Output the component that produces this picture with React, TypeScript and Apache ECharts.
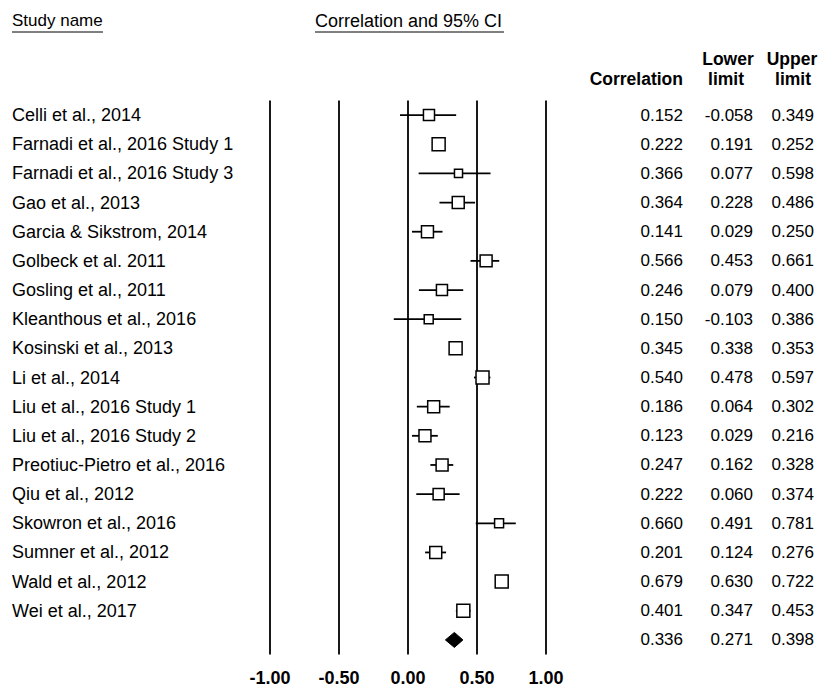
import React, { useEffect, useRef } from "react";
import * as echarts from "echarts";

const studies = [
  "Celli et al., 2014",
  "Farnadi et al., 2016 Study 1",
  "Farnadi et al., 2016 Study 3",
  "Gao et al., 2013",
  "Garcia & Sikstrom, 2014",
  "Golbeck et al. 2011",
  "Gosling et al., 2011",
  "Kleanthous et al., 2016",
  "Kosinski et al., 2013",
  "Li et al., 2014",
  "Liu et al., 2016 Study 1",
  "Liu et al., 2016 Study 2",
  "Preotiuc-Pietro et al., 2016",
  "Qiu et al., 2012",
  "Skowron et al., 2016",
  "Sumner et al., 2012",
  "Wald et al., 2012",
  "Wei et al., 2017",
];
const correlation = [0.152, 0.222, 0.366, 0.364, 0.141, 0.566, 0.246, 0.15, 0.345, 0.54, 0.186, 0.123, 0.247, 0.222, 0.66, 0.201, 0.679, 0.401];
const lowerLimit = [-0.058, 0.191, 0.077, 0.228, 0.029, 0.453, 0.079, -0.103, 0.338, 0.478, 0.064, 0.029, 0.162, 0.06, 0.491, 0.124, 0.63, 0.347];
const upperLimit = [0.349, 0.252, 0.598, 0.486, 0.25, 0.661, 0.4, 0.386, 0.353, 0.597, 0.302, 0.216, 0.328, 0.374, 0.781, 0.276, 0.722, 0.453];
const relativeWeight = [0.85, 1, 0.62, 0.92, 0.92, 0.92, 0.85, 0.69, 1, 1, 0.92, 0.92, 0.92, 0.85, 0.69, 0.92, 1, 1];
const summaryCorrelation = 0.336;
const summaryLower = 0.271;
const summaryUpper = 0.398;
const xTicks = [-1, -0.5, 0, 0.5, 1];

const FONT = "'Liberation Sans', Arial, sans-serif";

export default function App() {
  const ref = useRef<HTMLDivElement>(null);
  useEffect(() => {
    if (!ref.current) return;
    const chart = echarts.init(ref.current, null, { renderer: "svg" });
    const rows = [...studies, ""];
    const corrCol = [...correlation, summaryCorrelation];
    const lowCol = [...lowerLimit, summaryLower];
    const upCol = [...upperLimit, summaryUpper];
    const gridLeft = 270;
    const gridRight = 546;
    const numAxis = (margin: number, col: number[]) => ({
      type: "category",
      data: rows,
      inverse: true,
      position: "right",
      axisLine: { show: false },
      axisTick: { show: false },
      splitLine: { show: false },
      axisLabel: {
        align: "right",
        margin,
        color: "#000",
        fontSize: 17,
        fontFamily: FONT,
        formatter: (_v: string, i: number) => col[i].toFixed(3),
      },
    });
    const headStyle = { fontSize: 17.5, fontWeight: "bold", fontFamily: FONT, fill: "#000" };
    chart.setOption({
      animation: false,
      backgroundColor: "#fff",
      grid: { left: gridLeft, width: gridRight - gridLeft, top: 100.5, height: 554 },
      xAxis: {
        type: "value",
        min: xTicks[0],
        max: xTicks[xTicks.length - 1],
        interval: 0.5,
        axisLine: { show: false },
        axisTick: { show: false },
        splitLine: { show: true, lineStyle: { color: "#000", width: 1.8 } },
        axisLabel: {
          margin: 14,
          color: "#000",
          fontSize: 18,
          fontWeight: "bold",
          fontFamily: FONT,
          formatter: (v: number) => v.toFixed(2),
        },
      },
      yAxis: [
        {
          type: "category",
          data: rows,
          inverse: true,
          position: "left",
          axisLine: { show: false },
          axisTick: { show: false },
          splitLine: { show: false },
          axisLabel: { align: "left", margin: gridLeft - 12, color: "#000", fontSize: 18, fontFamily: FONT },
        },
        numAxis(683 - gridRight, corrCol),
        numAxis(753 - gridRight, lowCol),
        numAxis(814 - gridRight, upCol),
      ],
      graphic: [
        { type: "text", left: 12, top: 12, style: { text: "Study name", fontSize: 17, fontFamily: FONT, fill: "#000" } },
        { type: "line", shape: { x1: 12, y1: 32, x2: 103, y2: 32 }, style: { stroke: "#000", lineWidth: 1 } },
        { type: "text", left: 315, top: 12, style: { text: "Correlation and 95% CI", fontSize: 18, fontFamily: FONT, fill: "#000" } },
        { type: "line", shape: { x1: 315, y1: 32, x2: 504, y2: 32 }, style: { stroke: "#000", lineWidth: 1 } },
        { type: "text", x: 683, y: 79, style: { ...headStyle, text: "Correlation", align: "right", verticalAlign: "middle" } },
        { type: "text", x: 728, y: 59, style: { ...headStyle, text: "Lower", align: "center", verticalAlign: "middle" } },
        { type: "text", x: 726, y: 79, style: { ...headStyle, text: "limit", align: "center", verticalAlign: "middle" } },
        { type: "text", x: 792, y: 59, style: { ...headStyle, text: "Upper", align: "center", verticalAlign: "middle" } },
        { type: "text", x: 793, y: 79, style: { ...headStyle, text: "limit", align: "center", verticalAlign: "middle" } },
      ],
      series: [
        {
          type: "custom",
          coordinateSystem: "cartesian2d",
          xAxisIndex: 0,
          yAxisIndex: 0,
          data: studies.map((_, i) => [correlation[i], lowerLimit[i], upperLimit[i], i, relativeWeight[i]]),
          encode: { x: [0, 1, 2], y: 3 },
          renderItem: (_p: any, api: any) => {
            const row = api.value(3);
            const c = api.coord([api.value(0), row]);
            const l = api.coord([api.value(1), row]);
            const u = api.coord([api.value(2), row]);
            const s = 13 * api.value(4);
            return {
              type: "group",
              children: [
                { type: "line", shape: { x1: l[0], y1: l[1], x2: u[0], y2: u[1] }, style: { stroke: "#000", lineWidth: 1.8 } },
                {
                  type: "rect",
                  shape: { x: c[0] - s / 2, y: c[1] - s / 2, width: s, height: s },
                  style: { fill: "#fff", stroke: "#000", lineWidth: 1.5 },
                },
              ],
            };
          },
        },
        {
          type: "custom",
          coordinateSystem: "cartesian2d",
          xAxisIndex: 0,
          yAxisIndex: 0,
          data: [[summaryCorrelation, summaryLower, summaryUpper, studies.length]],
          encode: { x: [0, 1, 2], y: 3 },
          renderItem: (_p: any, api: any) => {
            const row = api.value(3);
            const c = api.coord([api.value(0), row]);
            const l = api.coord([api.value(1), row]);
            const u = api.coord([api.value(2), row]);
            const h = 7.5;
            return {
              type: "polygon",
              shape: { points: [[l[0], c[1]], [c[0], c[1] - h], [u[0], c[1]], [c[0], c[1] + h]] },
              style: { fill: "#000", stroke: "#000", lineWidth: 1 },
            };
          },
        },
      ],
    });
    return () => chart.dispose();
  }, []);
  return <div ref={ref} style={{ position: "fixed", left: 0, top: 0, width: 824, height: 689, background: "#fff" }} />;
}
